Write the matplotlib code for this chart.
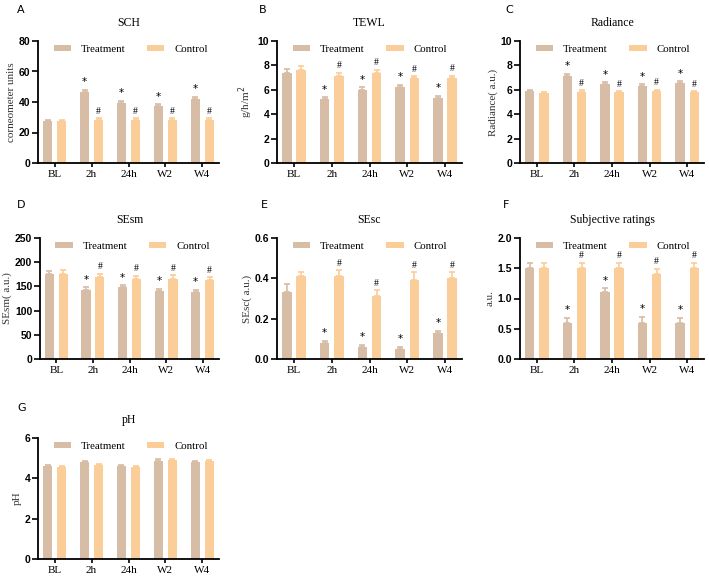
import matplotlib
matplotlib.use("Agg")
import matplotlib.pyplot as plt
import numpy as np
from matplotlib.ticker import FormatStrFormatter

plt.rcParams["font.family"] = ["Liberation Serif", "DejaVu Sans"]

categories = ["BL", "2h", "24h", "W2", "W4"]

sch_treat = [27.5, 46.5, 39.5, 37.5, 42.0]
sch_treat_err = [1.0, 1.5, 1.2, 1.0, 1.5]
sch_ctrl = [27.5, 28.5, 28.5, 28.5, 28.5]
sch_ctrl_err = [1.0, 0.8, 0.8, 0.8, 0.8]

tewl_treat = [7.4, 5.25, 5.95, 6.2, 5.35]
tewl_treat_err = [0.3, 0.15, 0.25, 0.2, 0.15]
tewl_ctrl = [7.65, 7.15, 7.4, 6.95, 7.0]
tewl_ctrl_err = [0.3, 0.25, 0.25, 0.15, 0.15]

rad_treat = [5.9, 7.15, 6.5, 6.35, 6.55]
rad_treat_err = [0.12, 0.18, 0.12, 0.1, 0.15]
rad_ctrl = [5.75, 5.85, 5.8, 5.9, 5.8]
rad_ctrl_err = [0.1, 0.1, 0.1, 0.1, 0.1]

sesm_treat = [175, 142, 148, 140, 138]
sesm_treat_err = [6, 6, 5, 5, 5]
sesm_ctrl = [176, 169, 166, 166, 163]
sesm_ctrl_err = [7, 7, 6, 7, 6]

sesc_treat = [0.33, 0.08, 0.06, 0.05, 0.13]
sesc_treat_err = [0.04, 0.01, 0.01, 0.01, 0.01]
sesc_ctrl = [0.41, 0.41, 0.31, 0.39, 0.40]
sesc_ctrl_err = [0.02, 0.03, 0.03, 0.04, 0.03]

subj_treat = [1.5, 0.6, 1.1, 0.6, 0.6]
subj_treat_err = [0.09, 0.08, 0.07, 0.1, 0.08]
subj_ctrl = [1.5, 1.5, 1.5, 1.4, 1.5]
subj_ctrl_err = [0.09, 0.09, 0.09, 0.09, 0.09]

ph_treat = [4.6, 4.82, 4.63, 4.88, 4.8]
ph_treat_err = [0.04, 0.04, 0.03, 0.06, 0.05]
ph_ctrl = [4.57, 4.66, 4.58, 4.93, 4.85]
ph_ctrl_err = [0.04, 0.04, 0.04, 0.05, 0.05]

TREAT_COLOR = "#d7bca6"
CTRL_COLOR = "#fbcd98"

W, H = 709, 576


def px_rect(left, top, width, height):
    return [left / W, 1 - (top + height) / H, width / W, height / H]


panels = [
    # letter, title, ylabel, treat, terr, ctrl, cerr, ymax, step, fmt, marks, rect, letter_xy
    ("A", "SCH", "corneometer units", sch_treat, sch_treat_err, sch_ctrl, sch_ctrl_err,
     80, 20, "%d", True, (38, 41, 181, 122), (17, 10)),
    ("B", "TEWL", "g/h/m$^2$", tewl_treat, tewl_treat_err, tewl_ctrl, tewl_ctrl_err,
     10, 2, "%d", True, (277, 41, 185, 122), (259, 10)),
    ("C", "Radiance", "Radiance( a.u.)", rad_treat, rad_treat_err, rad_ctrl, rad_ctrl_err,
     10, 2, "%d", True, (520, 41, 184, 122), (505, 10)),
    ("D", "SEsm", "SEsm( a.u.)", sesm_treat, sesm_treat_err, sesm_ctrl, sesm_ctrl_err,
     250, 50, "%d", True, (40, 238, 179, 121), (17, 205)),
    ("E", "SEsc", "SEsc( a.u.)", sesc_treat, sesc_treat_err, sesc_ctrl, sesc_ctrl_err,
     0.6, 0.2, "%.1f", True, (277, 238, 185, 121), (261, 205)),
    ("F", "Subjective ratings", "a.u.", subj_treat, subj_treat_err, subj_ctrl, subj_ctrl_err,
     2.0, 0.5, "%.1f", True, (520, 238, 184, 121), (503, 205)),
    ("G", "pH", "pH", ph_treat, ph_treat_err, ph_ctrl, ph_ctrl_err,
     6, 2, "%d", False, (38, 438, 181, 121), (17, 408)),
]

fig = plt.figure(figsize=(W / 100, H / 100), dpi=100)
x = np.arange(len(categories))
bw = 0.25
off = 0.19

for (letter, title, ylabel, tr, tre, ct, cte, ymax, step, fmt, marks,
     rect, lxy) in panels:
    ax = fig.add_axes(px_rect(*rect))
    tr = np.array(tr)
    ct = np.array(ct)
    tre = np.array(tre)
    cte = np.array(cte)
    ax.bar(x - off, tr, bw, color=TREAT_COLOR, label="Treatment",
           yerr=[np.zeros_like(tre), tre],
           error_kw=dict(ecolor=TREAT_COLOR, elinewidth=1.2, capsize=2.5, capthick=1.2))
    ax.bar(x + off, ct, bw, color=CTRL_COLOR, label="Control",
           yerr=[np.zeros_like(cte), cte],
           error_kw=dict(ecolor=CTRL_COLOR, elinewidth=1.2, capsize=2.5, capthick=1.2))
    if marks:
        pad = ymax * 0.02
        for i in range(1, len(categories)):
            ax.text(x[i] - off, tr[i] + tre[i] + pad, "*", ha="center", va="bottom",
                    fontsize=7.5, family="DejaVu Sans")
            ax.text(x[i] + off, ct[i] + cte[i] + pad, "#", ha="center", va="bottom",
                    fontsize=7)
    ax.set_xlim(-0.45, 4.45)
    ax.set_ylim(0, ymax)
    ax.set_yticks(np.arange(0, ymax + step / 2, step))
    ax.yaxis.set_major_formatter(FormatStrFormatter(fmt))
    ax.set_xticks(x)
    ax.set_xticklabels(categories, fontsize=8)
    for lab in ax.get_yticklabels():
        lab.set_family("Liberation Sans")
        lab.set_fontweight("bold")
        lab.set_fontsize(7.5)
    ax.tick_params(axis="y", direction="out", length=4, width=1.2, pad=1.5)
    ax.tick_params(axis="x", direction="out", length=3, width=1.2, pad=2)
    for side in ("top", "right"):
        ax.spines[side].set_visible(False)
    for side in ("left", "bottom"):
        ax.spines[side].set_linewidth(1.3)
    ax.set_ylabel(ylabel, fontsize=8, labelpad=2, color="#333333")
    ax.set_title(title, fontsize=8.5, pad=11)
    ax.legend(loc="upper left", bbox_to_anchor=(0.05, 1.02), ncol=2, frameon=False,
              fontsize=7.8, handlelength=1.6, handleheight=0.4, columnspacing=2.0,
              handletextpad=0.9, borderaxespad=0.2)
    fig.text(lxy[0] / W, 1 - lxy[1] / H, letter, fontsize=8,
             family="DejaVu Sans", ha="left", va="center")

fig.savefig("out.png", dpi=100)
